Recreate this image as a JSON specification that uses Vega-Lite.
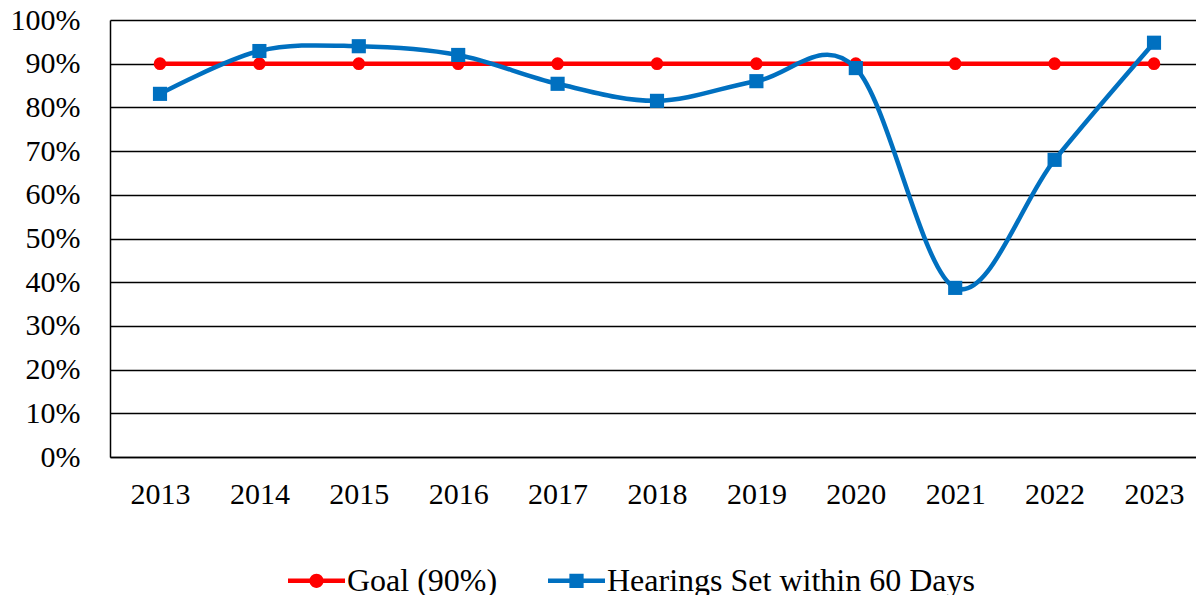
{
  "$schema": "https://vega.github.io/schema/vega-lite/v6.json",
  "width": 1086,
  "height": 437,
  "autosize": {"type": "none"},
  "padding": {"left": 110, "top": 20, "right": 0, "bottom": 138},
  "background": "white",
  "config": {"view": {"stroke": null}, "font": "Liberation Serif"},
  "data": {
    "values": [
      {"year": 2013, "series": "Goal (90%)", "value": 0.9},
      {"year": 2014, "series": "Goal (90%)", "value": 0.9},
      {"year": 2015, "series": "Goal (90%)", "value": 0.9},
      {"year": 2016, "series": "Goal (90%)", "value": 0.9},
      {"year": 2017, "series": "Goal (90%)", "value": 0.9},
      {"year": 2018, "series": "Goal (90%)", "value": 0.9},
      {"year": 2019, "series": "Goal (90%)", "value": 0.9},
      {"year": 2020, "series": "Goal (90%)", "value": 0.9},
      {"year": 2021, "series": "Goal (90%)", "value": 0.9},
      {"year": 2022, "series": "Goal (90%)", "value": 0.9},
      {"year": 2023, "series": "Goal (90%)", "value": 0.9},
      {"year": 2013, "series": "Hearings Set within 60 Days", "value": 0.831},
      {"year": 2014, "series": "Hearings Set within 60 Days", "value": 0.929},
      {"year": 2015, "series": "Hearings Set within 60 Days", "value": 0.94},
      {"year": 2016, "series": "Hearings Set within 60 Days", "value": 0.92},
      {"year": 2017, "series": "Hearings Set within 60 Days", "value": 0.854},
      {"year": 2018, "series": "Hearings Set within 60 Days", "value": 0.815},
      {"year": 2019, "series": "Hearings Set within 60 Days", "value": 0.86},
      {"year": 2020, "series": "Hearings Set within 60 Days", "value": 0.89},
      {"year": 2021, "series": "Hearings Set within 60 Days", "value": 0.387},
      {"year": 2022, "series": "Hearings Set within 60 Days", "value": 0.68},
      {"year": 2023, "series": "Hearings Set within 60 Days", "value": 0.948}
    ]
  },
  "encoding": {
    "x": {
      "field": "year", "type": "quantitative",
      "scale": {"domain": [2012.497, 2023.4225], "nice": false, "zero": false},
      "axis": {
        "values": [2013, 2014, 2015, 2016, 2017, 2018, 2019, 2020, 2021, 2022, 2023],
        "format": "d", "title": null, "grid": false, "ticks": false,
        "domainColor": "black", "domainWidth": 1.5,
        "labelFontSize": 30, "labelColor": "black", "labelPadding": 22,
        "labelFont": "Liberation Serif", "labelFlush": false, "labelOverlap": false
      }
    },
    "y": {
      "field": "value", "type": "quantitative",
      "scale": {"domain": [0, 1], "nice": false},
      "axis": {
        "values": [0, 0.1, 0.2, 0.3, 0.4, 0.5, 0.6, 0.7, 0.8, 0.9, 1],
        "format": ".0%", "title": null, "grid": true, "gridColor": "black",
        "gridWidth": 1.5, "gridOpacity": 1, "ticks": false,
        "domainColor": "black", "domainWidth": 1.5,
        "labelFontSize": 30, "labelColor": "black", "labelPadding": 30,
        "labelFont": "Liberation Serif", "labelFlush": false, "labelOverlap": false
      }
    }
  },
  "layer": [
    {
      "transform": [{"filter": "datum.series === 'Goal (90%)'"}],
      "mark": {"type": "line", "color": "#FF0000", "strokeWidth": 4.5}
    },
    {
      "transform": [{"filter": "datum.series === 'Goal (90%)'"}],
      "mark": {"type": "point", "shape": "circle", "filled": true, "color": "#FF0000", "size": 160, "opacity": 1}
    },
    {
      "transform": [{"filter": "datum.series !== 'Goal (90%)'"}],
      "mark": {"type": "line", "color": "#0070C0", "strokeWidth": 4.5, "interpolate": "cardinal"}
    },
    {
      "transform": [{"filter": "datum.series !== 'Goal (90%)'"}],
      "mark": {"type": "point", "shape": "square", "filled": true, "color": "#0070C0", "size": 200, "opacity": 1}
    },
    {
      "transform": [{"filter": "datum.year > 3000"}],
      "mark": {"type": "point", "filled": true, "opacity": 1},
      "encoding": {
        "color": {
          "field": "series", "type": "nominal",
          "scale": {"domain": ["Goal (90%)", "Hearings Set within 60 Days"], "range": ["#FF0000", "#0070C0"]},
          "legend": {
            "title": null, "orient": "none", "direction": "horizontal",
            "legendX": 178, "legendY": 532,
            "labelFontSize": 32, "labelFont": "Liberation Serif", "labelColor": "black",
            "symbolSize": 3249, "symbolStrokeWidth": 0, "symbolOpacity": 1,
            "labelOffset": 2, "columnPadding": 50, "labelLimit": 600
          }
        },
        "shape": {
          "field": "series", "type": "nominal",
          "scale": {
            "domain": ["Goal (90%)", "Hearings Set within 60 Days"],
            "range": [
              "M-1,-0.075H1V0.075H-1Z M0.25,0A0.25,0.25,0,1,1,-0.25,0A0.25,0.25,0,1,1,0.25,0Z",
              "M-1,-0.075H1V0.075H-1Z M-0.25,-0.25H0.25V0.25H-0.25Z"
            ]
          }
        }
      }
    }
  ]
}
